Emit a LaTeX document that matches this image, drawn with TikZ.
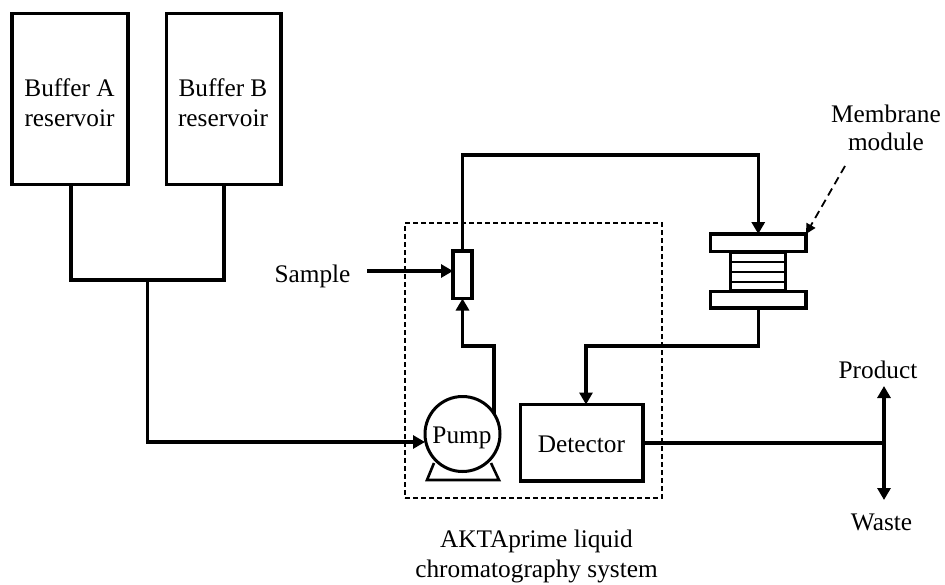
\documentclass[tikz,border=0pt]{standalone}
\usepackage{fontspec}
\setmainfont{Liberation Serif}
\usetikzlibrary{arrows.meta}
\tikzset{x=1pt,y=-1pt,
 unit/.style={draw=black,line width=3.2pt,inner sep=0pt,outer sep=0pt,fill=white},
 thickpipe/.style={draw=black,line width=3.2pt},
 flow/.style={thickpipe,-{Triangle[length=12pt,width=13pt]}},
 thinplate/.style={draw=black,line width=1.2pt},
 lbl/.style={font=\fontsize{25.3}{30}\selectfont,align=center,inner sep=0pt},
 dashbox/.style={draw=black,line width=1.2pt,dash pattern=on 5pt off 3pt,inner sep=0pt,outer sep=0pt},
 callout/.style={draw=black,line width=1.8pt,dash pattern=on 8pt off 5pt,-{Triangle[length=10pt,width=10pt]}}
}
\begin{document}
\begin{tikzpicture}
\useasboundingbox (0,0) rectangle (945,584);
\newcommand{\boxat}[6][]{\node[unit,minimum width=#5pt,minimum height=#6pt,anchor=north west,#1] (#2) at (#3,#4) {};}
\node[dashbox,minimum width=257pt,minimum height=275pt,anchor=north west] (sys) at (405,223) {};
\boxat{bufa}{12}{13.5}{116}{171}
\boxat{bufb}{166.5}{13.5}{114.5}{171}
\node[lbl] (bufal) at (69.5,102.5) {Buffer A\\reservoir};
\node[lbl] (bufbl) at (223,102.5) {Buffer B\\reservoir};
\coordinate (ja) at (71,280);
\coordinate (jb) at (224,280);
\coordinate (jm) at (147.5,280);
\draw[thickpipe,line join=miter] (bufa.south -| ja) -- (ja) -- (jb) -- (bufb.south -| jb);
\node[unit,circle,minimum size=75pt,line width=3pt] (pump) at (462.5,434) {};
\node[lbl,anchor=base] (pumpl) at (462,443) {Pump};
\coordinate (stl) at (427,480);
\coordinate (str) at (499,480);
\coordinate (stal) at (434,463);
\coordinate (star) at (491,463);
\draw[thickpipe,line width=2.6pt,line join=miter] (stal) -- (stl) -- (str) -- (star);
\coordinate (pin) at (423,442);
\draw[flow] (jm) |- (pump.west |- pin);
\boxat{det}{520.5}{404.5}{122.5}{76.5}
\node[lbl,anchor=base] (detl) at (581.5,452) {Detector};
\boxat{valve}{453}{251}{19}{47.5}
\coordinate (pout) at (494,414);
\coordinate (pbend) at (462.5,346);
\draw[flow,line join=miter] (pout) -- (pout |- pbend) -- (pbend) -- (valve.south);
\node[lbl,anchor=base] (samp) at (312.5,282) {Sample};
\coordinate (sampstart) at (367,271);
\draw[flow] (sampstart) -- (valve.west |- sampstart);
\boxat{ptop}{710.5}{234}{95.5}{17.5}
\boxat{pbot}{710.5}{291.5}{95.5}{16.5}
\node[unit,minimum width=55pt,minimum height=38pt,anchor=north west] (memb) at (730.5,252.5) {};
\draw[thinplate] (memb.west |- 0,262) -- (memb.east |- 0,262)
 (memb.west |- 0,272) -- (memb.east |- 0,272)
 (memb.west |- 0,282) -- (memb.east |- 0,282);
\coordinate (ttop) at (462.5,155);
\draw[flow,line join=miter] (valve.north) -- (ttop) -| (ptop.north);
\coordinate (mbend) at (758.25,346);
\coordinate (dbend) at (586,346);
\draw[flow,line join=miter] (pbot.south) -- (mbend) -- (dbend) -- (dbend |- det.north);
\coordinate (tee) at (884,443);
\draw[thickpipe] (det.east |- tee) -- (tee);
\coordinate (tprod) at (884,386);
\coordinate (twaste) at (884,500);
\draw[flow,{Triangle[length=12pt,width=13pt]}-{Triangle[length=12pt,width=13pt]}] (tprod) -- (twaste);
\node[lbl,anchor=base] (prodl) at (878,378) {Product};
\node[lbl,anchor=base] (wastel) at (881.5,530) {Waste};
\node[lbl,font=\fontsize{25.3}{28}\selectfont] (memlbl) at (886,128) {Membrane\\module};
\coordinate (cstart) at (845,166);
\draw[callout] (cstart) -- (ptop.north east);
\node[lbl] (sysl) at (536.5,556.5) {AKTAprime liquid\\chromatography system};
\end{tikzpicture}
\end{document}
